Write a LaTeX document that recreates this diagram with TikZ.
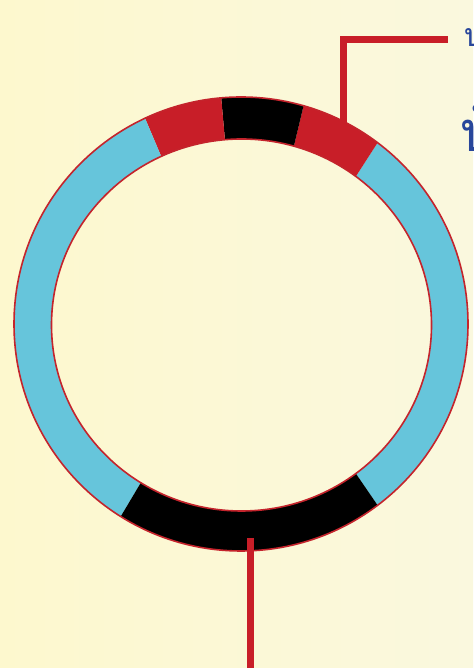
\documentclass[tikz,border=0pt]{standalone}
\usepackage{fontspec}
\newfontfamily\thaifont[Script=Thai]{Loma}
\definecolor{bgL}{RGB}{253,248,206}
\definecolor{bgR}{RGB}{250,248,222}
\definecolor{ringcyan}{RGB}{102,197,219}
\definecolor{ringred}{RGB}{200,30,40}
\definecolor{edgered}{RGB}{196,36,44}
\definecolor{labelblue}{RGB}{40,70,155}
\tikzset{
  leader/.style={draw=ringred,line width=7pt},
  ringedge/.style={draw=edgered,line width=1.6pt},
  thailabel/.style={text=labelblue,anchor=west,inner sep=0pt,font=\thaifont},
}
\newcommand\ringseg[3]{%
  \fill[#3] ([shift={(241,344)}]#1:227pt) arc[start angle=#1,end angle=#2,radius=227pt]
    -- ([shift={(241.5,343)}]#2:190pt and 186pt)
    arc[start angle=#2,end angle=#1,x radius=190pt,y radius=186pt] -- cycle;}
\begin{document}
\begin{tikzpicture}[x=1pt,y=1pt]
\useasboundingbox (0,0) rectangle (473,668);
\shade[left color=bgL,right color=bgR] (0,0) rectangle (473,668);
% ring segments
\ringseg{-53}{53}{ringcyan}
\ringseg{53}{74}{ringred}
\ringseg{74}{95}{black}
\ringseg{95}{115}{ringred}
\ringseg{115}{238}{ringcyan}
\ringseg{238}{307}{black}
\draw[ringedge] (241,344) circle[radius=227pt];
\draw[ringedge] (241.5,343) ellipse[x radius=190pt,y radius=186pt];
% leader lines
\coordinate (topend) at (343.5,544);
\coordinate (topcorner) at (343.5,628);
\coordinate (topfree) at (448,628);
\coordinate (botend) at (250.5,130);
\coordinate (botfree) at (250.5,0);
\begin{scope}
\clip (0,0) rectangle (473,668);
\node[thailabel,font=\thaifont\fontsize{32}{34}\selectfont] (lab1) at (464,634) {บริเวณ};
\node[thailabel,font=\thaifont\fontsize{56}{58}\selectfont] (lab2) at (460,540) {บ้าน};
\end{scope}
\draw[leader] (topend) -- (topcorner) -- (topfree);
\draw[leader] (botend) -- (botfree);
\end{tikzpicture}
\end{document}
